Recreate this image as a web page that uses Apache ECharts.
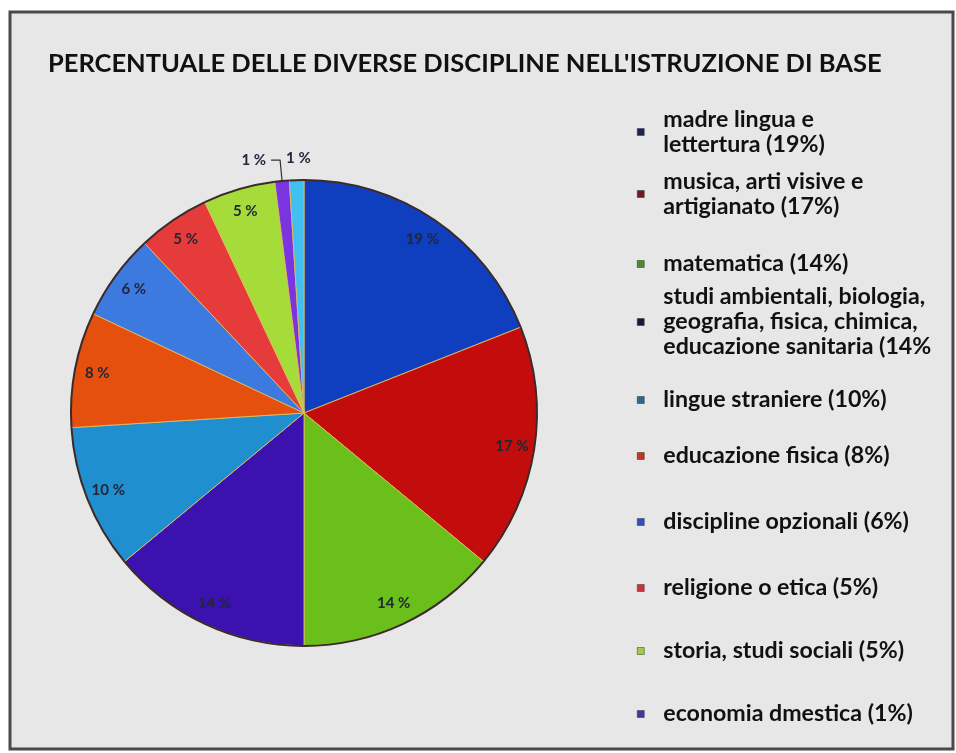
<!DOCTYPE html>
<html>
<head>
<meta charset="utf-8">
<script src="https://cdn.jsdelivr.net/npm/echarts@6/dist/echarts.min.js"></script>
<style>
html,body{margin:0;padding:0;background:#ffffff;}
#chart{width:956px;height:753px;}
</style>
</head>
<body>
<div id="chart"></div>
<script>
// ---- data ----
const categories = [
  "madre lingua e lettertura",
  "musica, arti visive e artigianato",
  "matematica",
  "studi ambientali, biologia, geografia, fisica, chimica, educazione sanitaria",
  "lingue straniere",
  "educazione fisica",
  "discipline opzionali",
  "religione o etica",
  "storia, studi sociali",
  "economia dmestica",
  "altro"
];
const values = [19, 17, 14, 14, 10, 8, 6, 5, 5, 1, 1];
const legendTexts = [
  "madre lingua e\nlettertura (19%)",
  "musica, arti visive e\nartigianato (17%)",
  "matematica (14%)",
  "studi ambientali, biologia,\ngeografia, fisica, chimica,\neducazione sanitaria (14%",
  "lingue straniere (10%)",
  "educazione fisica (8%)",
  "discipline opzionali (6%)",
  "religione o etica (5%)",
  "storia, studi sociali (5%)",
  "economia dmestica (1%)"
];
const titleText = "PERCENTUALE DELLE DIVERSE DISCIPLINE NELL'ISTRUZIONE DI BASE";

// ---- styles ----
const sliceColors = ["#0f3fbf","#c30d0d","#6abf1a","#3b12b0","#1f8fd0","#e5500f","#3c7ae0","#e53b3b","#a6dc3a","#7a35e0","#40bff0"];
const legendColors = ["#1c2456","#6e1a1e","#4a8a2c","#1a1838","#2a6a8c","#c8321e","#3050c0","#d0303e","#a0cc40","#4a30a0"];
const legendCenters = [132, 194, 264, 322, 400, 456, 522, 588, 651, 714];
const FONT = "Lato";
const lineH = 25;

const chart = echarts.init(document.getElementById('chart'), null, {renderer: 'canvas'});

const legends = legendTexts.map((t, i) => {
  const n = t.split('\n').length;
  return {
    data: [{name: categories[i], itemStyle: {color: legendColors[i], borderColor: '#333', borderWidth: 0.5}}],
    left: 637,
    top: legendCenters[i] - n * lineH / 2,
    orient: 'vertical',
    padding: 0,
    icon: 'rect',
    itemWidth: 7,
    itemHeight: 7,
    selectedMode: false,
    formatter: () => t,
    textStyle: {fontFamily: FONT, fontWeight: 'bold', fontSize: 23.2, color: '#111', lineHeight: lineH, padding: [0, 0, 0, 14]}
  };
});

const mainData = categories.map((c, i) => ({name: c, value: values[i], itemStyle: {color: sliceColors[i]}}));
const outlineData = categories.map((c, i) => ({name: c, value: values[i]}));
const labelData = categories.map((c, i) => {
  const d = {name: c, value: values[i]};
  if (i === 9) {
    d.label = {position: 'outside'};
    d.labelLine = {show: true, length: 21, length2: 9, lineStyle: {color: '#333', width: 1.2}};
  } else if (i === 10) {
    d.label = {offset: [1, -44]};
  }
  return d;
});

chart.setOption({
  animation: false,
  backgroundColor: '#ffffff',
  graphic: [{
    type: 'rect', z: -10, silent: true,
    shape: {x: 10, y: 12, width: 943, height: 737},
    style: {fill: '#e7e7e7', stroke: '#4a4a4a', lineWidth: 3}
  }],
  title: {
    text: titleText, left: 43, top: 46,
    textStyle: {fontFamily: FONT, fontWeight: 'bold', fontSize: 25.5, color: '#111'}
  },
  legend: legends,
  series: [{
    type: 'pie', name: 'main', silent: true,
    center: [304, 413], radius: [0, 233],
    startAngle: 90, clockwise: true,
    avoidLabelOverlap: false,
    label: {show: false}, labelLine: {show: false},
    itemStyle: {borderColor: 'rgba(225,185,90,0.9)', borderWidth: 1},
    data: mainData
  }, {
    type: 'pie', name: 'outline', silent: true,
    center: [304, 413], radius: [232, 234],
    startAngle: 90, clockwise: true,
    label: {show: false}, labelLine: {show: false},
    itemStyle: {color: '#3a2a2a'},
    data: outlineData
  }, {
    type: 'pie', name: 'labels', silent: true,
    center: [304, 413], radius: [182, 233],
    startAngle: 90, clockwise: true,
    avoidLabelOverlap: false,
    itemStyle: {color: 'rgba(0,0,0,0)'},
    label: {show: true, position: 'inside', formatter: '{c} %', fontFamily: FONT, fontWeight: 'bold', fontSize: 15, color: '#222638'},
    labelLine: {show: false},
    data: labelData
  }]
});
</script>
</body>
</html>
